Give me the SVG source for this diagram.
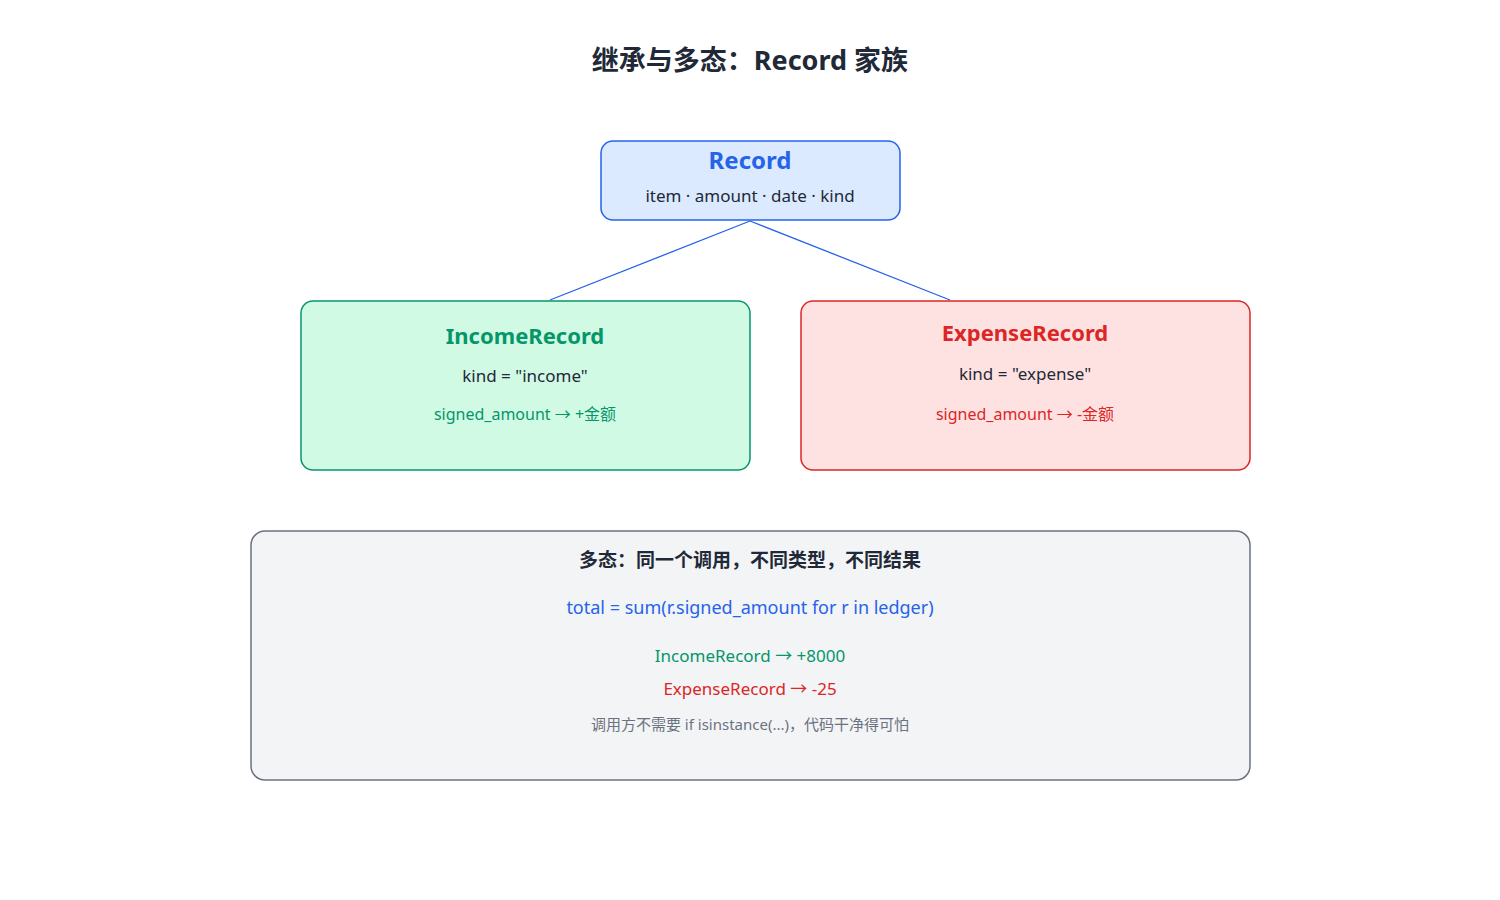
<svg xmlns="http://www.w3.org/2000/svg" width="1500" height="900" viewBox="0 0 1500 900">
<style>
text{font-family:"Noto Sans","Noto Sans CJK SC",sans-serif;text-anchor:middle}
.b{font-weight:bold}
.dk{fill:#1f2937}.bl{fill:#2563eb}.gr{fill:#059669}.rd{fill:#dc2626}.gy{fill:#6b7280}
</style>
<rect width="1500" height="900" fill="#fff"/>
<text x="750" y="70" class="b dk" font-size="27">继承与多态：Record 家族</text>
<g id="connectors" stroke="#2563eb" stroke-width="1.3" fill="none">
<line x1="750" y1="221" x2="550" y2="300"/>
<line x1="750" y1="221" x2="950" y2="300"/>
</g>
<g id="record">
<rect x="601" y="141" width="299" height="79" rx="12" fill="#dbeafe" stroke="#2563eb" stroke-width="1.5"/>
<text x="750" y="169" class="b bl" font-size="24">Record</text>
<text x="750" y="202" class="dk" font-size="17">item · amount · date · kind</text>
</g>
<g id="income">
<rect x="301" y="301" width="449" height="169" rx="12" fill="#d1fae5" stroke="#059669" stroke-width="1.5"/>
<text x="525" y="344" class="b gr" font-size="22">IncomeRecord</text>
<text x="525" y="382" class="dk" font-size="17">kind = "income"</text>
<text x="525" y="420" class="gr" font-size="16">signed_amount → +金额</text>
</g>
<g id="expense">
<rect x="801" y="301" width="449" height="169" rx="12" fill="#fee2e2" stroke="#dc2626" stroke-width="1.5"/>
<text x="1025" y="341" class="b rd" font-size="22">ExpenseRecord</text>
<text x="1025" y="380" class="dk" font-size="17">kind = "expense"</text>
<text x="1025" y="420" class="rd" font-size="16">signed_amount → -金额</text>
</g>
<g id="poly">
<rect x="251" y="531" width="999" height="249" rx="14" fill="#f3f4f6" stroke="#6b7280" stroke-width="1.5"/>
<text x="750" y="567" class="b dk" font-size="19">多态：同一个调用，不同类型，不同结果</text>
<text x="750" y="614" class="bl" font-size="18">total = sum(r.signed_amount for r in ledger)</text>
<text x="750" y="662" class="gr" font-size="17">IncomeRecord → +8000</text>
<text x="750" y="695" class="rd" font-size="17">ExpenseRecord → -25</text>
<text x="750" y="730" class="gy" font-size="15">调用方不需要 if isinstance(...)，代码干净得可怕</text>
</g>
</svg>
